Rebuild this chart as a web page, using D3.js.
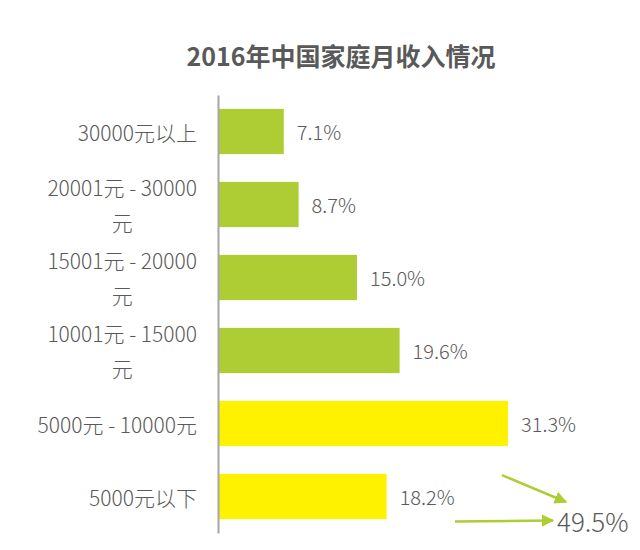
<!DOCTYPE html>
<html><head><meta charset="utf-8">
<script src="https://cdn.jsdelivr.net/npm/d3@7"></script>
<style>
html,body{margin:0;padding:0;background:#fff;}
svg{display:block;font-family:"Noto Sans CJK SC","Noto Sans",sans-serif;}
</style></head>
<body><svg id="chart" width="640" height="550"></svg>
<script>
const title = "2016年中国家庭月收入情况";
const categories = ["30000元以上", "20001元 - 30000元", "15001元 - 20000元", "10001元 - 15000元", "5000元 - 10000元", "5000元以下"];
const labelLines = [["30000元以上"], ["20001元 - 30000", "元"], ["15001元 - 20000", "元"], ["10001元 - 15000", "元"], ["5000元 - 10000元"], ["5000元以下"]];
const values = [7.1, 8.7, 15.0, 19.6, 31.3, 18.2];
const highlighted = [false, false, false, false, true, true];
const totalLabel = "49.5%";

const svg = d3.select("#chart");
const textColor = "#595959";
const green = "#AECD35";
const yellow = "#FFF200";

const x = d3.scaleLinear().domain([0, 35]).range([218, 542.3]);
const y = d3.scaleBand().domain(categories).range([95, 533]).paddingInner(0.38).paddingOuter(0.19);

svg.append("text").attr("x", 341).attr("y", 66).attr("text-anchor", "middle")
  .attr("font-size", 25).attr("font-weight", "bold").attr("fill", textColor).text(title);

// bars
svg.selectAll("rect.bar").data(values).join("rect").attr("class", "bar")
  .attr("x", x(0)).attr("y", (d, i) => y(categories[i]))
  .attr("width", d => x(d) - x(0)).attr("height", y.bandwidth())
  .attr("fill", (d, i) => highlighted[i] ? yellow : green);

// axis
const ax = svg.append("g").attr("transform", `translate(${x(0)},0)`)
  .call(d3.axisLeft(y).tickSize(0).tickFormat(""));
ax.select(".domain").attr("stroke", "#a6a6a6").attr("stroke-width", 2);

// category labels
const lab = svg.selectAll("g.lab").data(categories).join("g").attr("class", "lab");
lab.each(function(c, i) {
  const g = d3.select(this);
  const lines = labelLines[i];
  const cy = y(c) + y.bandwidth() / 2;
  const lh = 35;
  const t = g.append("text").attr("font-size", 21).attr("font-weight", 300).attr("fill", textColor)
    .attr("text-anchor", "middle").attr("dominant-baseline", "central");
  lines.forEach((ln, j) => {
    t.append("tspan").attr("x", 0).attr("y", cy + (j - (lines.length - 1) / 2) * lh).text(ln);
  });
  const bb = t.node().getBBox();
  t.attr("transform", `translate(${197 - (bb.x + bb.width)},0)`);
});

// value labels
svg.selectAll("text.val").data(values).join("text").attr("class", "val")
  .attr("x", d => x(d) + 13).attr("y", (d, i) => y(categories[i]) + y.bandwidth() / 2)
  .attr("dominant-baseline", "central").attr("font-size", 20).attr("font-weight", 300).attr("fill", textColor)
  .text(d => d.toFixed(1) + "%");

// arrows
const defs = svg.append("defs");
defs.append("marker").attr("id", "ah").attr("viewBox", "0 0 10 10").attr("refX", 9).attr("refY", 5)
  .attr("markerWidth", 5).attr("markerHeight", 5).attr("orient", "auto-start-reverse")
  .append("path").attr("d", "M0,0L10,5L0,10z").attr("fill", green);

const c4 = categories[4], c5 = categories[5];
svg.append("line").attr("x1", x(values[4]) - 6).attr("y1", y(c4) + y.bandwidth() + 29)
  .attr("x2", 566).attr("y2", 502).attr("stroke", green).attr("stroke-width", 2.5).attr("marker-end", "url(#ah)");
svg.append("line").attr("x1", 455).attr("y1", y(c5) + y.bandwidth() / 2 + 25)
  .attr("x2", 553).attr("y2", y(c5) + y.bandwidth() / 2 + 24).attr("stroke", green).attr("stroke-width", 2.5).attr("marker-end", "url(#ah)");

svg.append("text").attr("x", 557).attr("y", 520).attr("dominant-baseline", "central")
  .attr("font-size", 26).attr("font-weight", 300).attr("fill", textColor).text(totalLabel);
</script></body></html>
